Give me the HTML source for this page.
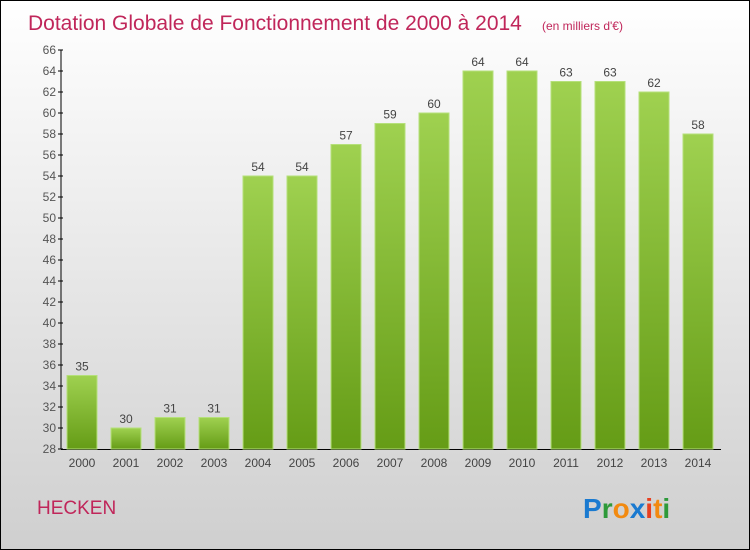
<!DOCTYPE html>
<html><head><meta charset="utf-8"><style>
body{margin:0}
#c{position:relative;width:748px;height:548px;border:1px solid #000;background:linear-gradient(#ffffff,#cfcfcf);overflow:hidden;font-family:"Liberation Sans",sans-serif}
</style></head><body>
<div id="c">
<svg width="748" height="548" style="position:absolute;left:0;top:0">
<defs><linearGradient id="g" x1="0" y1="0" x2="0" y2="1"><stop offset="0" stop-color="#9fd150"/><stop offset="1" stop-color="#659c16"/></linearGradient></defs>
<text x="27" y="29" font-size="21" fill="#c0265a">Dotation Globale de Fonctionnement de 2000 à 2014</text>
<text x="541" y="29" font-size="12" fill="#c0265a">(en milliers d'€)</text>
<g id="plot"></g>
<text x="36" y="513" font-size="19" fill="#c0265a">HECKEN</text>
<g font-size="28" font-weight="bold" font-family="Liberation Sans,sans-serif">
<text x="582" y="517"><tspan fill="#1a7ad0">P</tspan><tspan fill="#2e9a3a">r</tspan><tspan fill="#f28a10">o</tspan><tspan fill="#1a7ad0">x</tspan><tspan fill="#e84020">i</tspan><tspan fill="#f28a10">t</tspan><tspan fill="#2e9a3a">i</tspan></text>
</g>
</svg>
</div>
<script>
const categories=["2000","2001","2002","2003","2004","2005","2006","2007","2008","2009","2010","2011","2012","2013","2014"];
const values=[35,30,31,31,54,54,57,59,60,64,64,63,63,62,58];
const yTicks=[28,30,32,34,36,38,40,42,44,46,48,50,52,54,56,58,60,62,64,66];
const NS="http://www.w3.org/2000/svg";
const g=document.getElementById('plot');
const y0=448,ppu=10.5,vmin=28;
const y=v=>y0-(v-vmin)*ppu;
const x=i=>81+i*44;
function mk(t,a,txt){const e=document.createElementNS(NS,t);for(const k in a)e.setAttribute(k,a[k]);if(txt!==undefined)e.textContent=txt;g.appendChild(e);return e;}
let ax=mk('line',{x1:60,y1:y(66),x2:60,y2:y0,stroke:'#000'});


let bx=mk('line',{x1:60,y1:y0+0.5,x2:720,y2:y0+0.5,stroke:'#000'});


yTicks.forEach(t=>{
 mk('line',{x1:57,y1:y(t),x2:62,y2:y(t),stroke:'#000'});
 const l=mk('text',{x:55,y:y(t)+4,'font-size':12,fill:'#555','text-anchor':'end'},t);
 
 
});
categories.forEach((c,i)=>{
 const v=values[i];
 const r=mk('rect',{x:x(i)-15,y:y(v),width:30,height:y0-y(v),fill:'url(#g)',stroke:'#b5e07a','stroke-width':1});
 
 
 const vl=mk('text',{x:x(i),y:y(v)-5,'font-size':12,fill:'#444','text-anchor':'middle'},v);
 
 
 const xl=mk('text',{x:x(i),y:466,'font-size':12,fill:'#444','text-anchor':'middle'},c);
 
 
});
</script>
</body></html>
